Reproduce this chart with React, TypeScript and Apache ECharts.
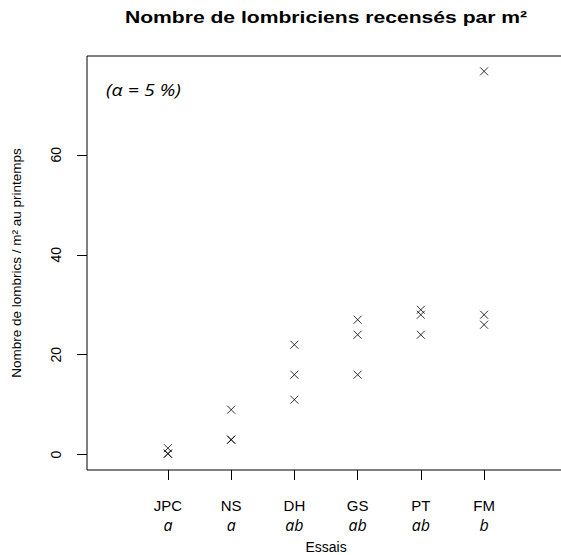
import React, { useEffect, useRef } from "react";
import * as echarts from "echarts";

const categories = ["JPC", "NS", "DH", "GS", "PT", "FM"];
const groupLetters = ["a", "a", "ab", "ab", "ab", "b"];
const jpc = [1.3, 0.2, 0.2];
const ns = [9, 3, 3];
const dh = [22, 16, 11];
const gs = [27, 24, 16];
const pt = [29, 28, 24];
const fm = [76.7, 28, 26];
const yTicks = [0, 20, 40, 60];
const titleText = "Nombre de lombriciens recensés par m²";
const yTitle = "Nombre de lombrics / m² au printemps";
const xTitle = "Essais";
const alphaNote = "(α = 5 %)";

const groups = [jpc, ns, dh, gs, pt, fm];

export default function App() {
  const ref = useRef<HTMLDivElement>(null);
  useEffect(() => {
    if (!ref.current) return;
    const chart = echarts.init(ref.current, null, { renderer: "svg" });
    const data: number[][] = [];
    groups.forEach((vals, i) => vals.forEach((v) => data.push([i + 1, v])));
    const xPos = categories.map((_, i) => i + 1);
    const xRange = { min: -0.28, max: 7.28 };
    chart.setOption({
      animation: false,
      backgroundColor: "#ffffff",
      textStyle: { fontFamily: "Liberation Sans" },
      grid: {
        left: 87,
        right: -4,
        top: 56,
        bottom: 85,
        show: true,
        borderColor: "#000",
        borderWidth: 1,
        backgroundColor: "transparent",
        containLabel: false,
        outerBoundsMode: "none",
      },
      xAxis: [
        {
          type: "value",
          ...xRange,
          position: "bottom",
          axisLine: { show: false, onZero: false },
          splitLine: { show: false },
          axisTick: {
            show: true,
            customValues: xPos,
            length: 10,
            lineStyle: { color: "#000", width: 1 },
          },
          axisLabel: {
            customValues: xPos,
            margin: 28,
            formatter: (v: number) => categories[v - 1],
            fontSize: 15,
            lineHeight: 15,
            fontFamily: "Liberation Sans",
            color: "#000",
          },
          name: xTitle,
          nameLocation: "middle",
          nameGap: 70,
          nameTextStyle: { fontSize: 14, color: "#000", fontFamily: "Liberation Sans" },
        },
        {
          type: "value",
          ...xRange,
          position: "bottom",
          axisLine: { show: false, onZero: false },
          splitLine: { show: false },
          axisTick: { show: false },
          axisLabel: {
            customValues: xPos,
            margin: 47,
            formatter: (v: number) => groupLetters[v - 1],
            fontSize: 16,
            lineHeight: 16,
            fontStyle: "italic",
            fontFamily: "Open Sans",
            color: "#000",
          },
        },
      ],
      yAxis: {
        type: "value",
        min: -3.068,
        max: 79.768,
        position: "left",
        axisLine: { show: false, onZero: false },
        splitLine: { show: false },
        axisTick: {
          show: true,
          customValues: yTicks,
          length: 10,
          lineStyle: { color: "#000", width: 1 },
        },
        axisLabel: {
          customValues: yTicks,
          rotate: 90,
          margin: 24,
          fontSize: 14,
          color: "#000",
          fontFamily: "Liberation Sans",
        },
        name: yTitle,
        nameLocation: "middle",
        nameRotate: 90,
        nameGap: 64,
        nameTextStyle: { fontSize: 13.5, color: "#000", fontFamily: "Liberation Sans" },
      },
      graphic: [
        {
          type: "text",
          x: 326,
          y: 17,
          scaleX: 1.32,
          style: {
            text: titleText,
            fontSize: 16,
            fontWeight: "bold",
            fontFamily: "Liberation Sans",
            fill: "#000",
            textAlign: "center",
            textVerticalAlign: "middle",
          },
        },
        {
          type: "text",
          x: 106,
          y: 90,
          scaleX: 1.22,
          style: {
            text: alphaNote,
            fontSize: 16,
            fontStyle: "italic",
            fontFamily: "Open Sans",
            fill: "#000",
            textAlign: "left",
            textVerticalAlign: "middle",
          },
        },
      ],
      series: [
        {
          type: "scatter",
          xAxisIndex: 0,
          data,
          symbol: "path://M0,0L10,10M10,0L0,10",
          symbolSize: 8,
          itemStyle: { color: "none", borderColor: "#000", borderWidth: 1 },
          emphasis: { disabled: true },
        },
      ],
    });
    return () => chart.dispose();
  }, []);
  return (
    <div
      ref={ref}
      style={{ position: "absolute", left: 0, top: 0, width: 561, height: 555 }}
    />
  );
}
